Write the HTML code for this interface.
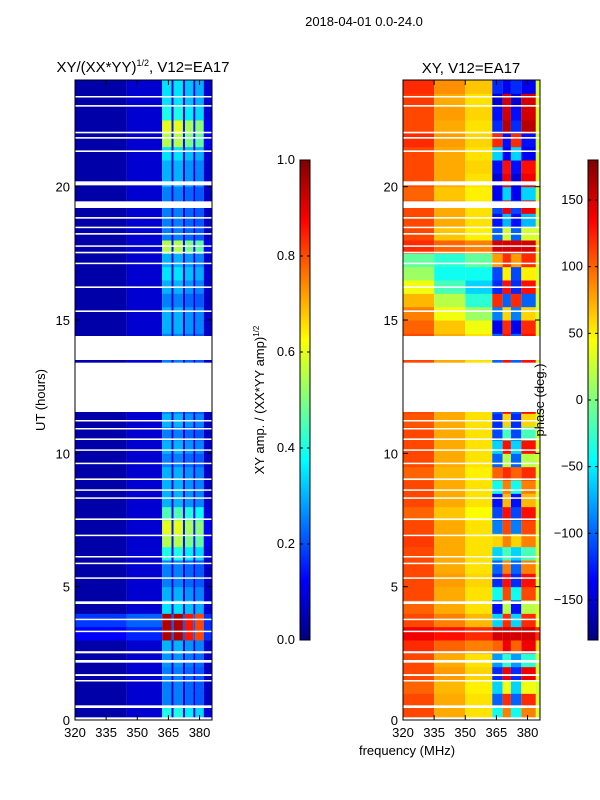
<!DOCTYPE html>
<html><head><meta charset="utf-8">
<style>
body{margin:0;background:#fff;width:600px;height:800px;overflow:hidden}
svg{display:block;font-family:"Liberation Sans",sans-serif}
</style></head>
<body>
<svg id="fig" width="600" height="800">
<defs>
<linearGradient id="jet" x1="0" y1="1" x2="0" y2="0">
<stop offset="0" stop-color="#00007f"/><stop offset="0.125" stop-color="#0000ff"/>
<stop offset="0.375" stop-color="#00ffff"/><stop offset="0.625" stop-color="#ffff00"/>
<stop offset="0.875" stop-color="#ff0000"/><stop offset="1" stop-color="#7f0000"/>
</linearGradient>
</defs>
<text x="364" y="26" font-size="13" text-anchor="middle">2018-04-01 0.0-24.0</text>
<text x="143" y="72" font-size="15" text-anchor="middle">XY/(XX*YY)<tspan font-size="9" dy="-6">1/2</tspan><tspan dy="6">, V12=EA17</tspan></text>
<text x="471" y="73" font-size="15" text-anchor="middle">XY, V12=EA17</text>
<g id="left"></g>
<g id="right"></g>
<g id="axes"></g>
<text transform="translate(45,400) rotate(-90)" font-size="13" text-anchor="middle">UT (hours)</text>
<text x="407" y="755" font-size="13" text-anchor="middle">frequency (MHz)</text>
<text transform="translate(264,400) rotate(-90)" font-size="13" text-anchor="middle">XY amp. / (XX*YY amp)<tspan font-size="8" dy="-5">1/2</tspan></text>
<text transform="translate(544,400) rotate(-90)" font-size="13" text-anchor="middle">phase (deg.)</text>
</svg>
<script>
// ---- data ----
const timeRows = [0,0.5,1,1.5,2,2.5,3,3.5,4,4.5,5,5.5,6,6.5,7,7.5,8,8.5,9,9.5,10,10.5,11,11.5,12,12.5,13,13.5,14,14.5,15,15.5,16,16.5,17,17.5,18,18.5,19,19.5,20,20.5,21,21.5,22,22.5,23,23.5];
const ampLowFreq = [0.04,0.04,0.04,0.04,0.04,0.04,0.12,0.18,0.04,0.04,0.04,0.04,0.04,0.04,0.04,0.04,0.04,0.04,0.04,0.04,0.04,0.04,0.04,0.04,0.04,0.04,0.04,0.04,0.04,0.04,0.04,0.04,0.04,0.04,0.04,0.04,0.04,0.04,0.04,0.04,0.04,0.04,0.04,0.04,0.04,0.04,0.04,0.04];
const ampHighFreq = [0.4,0.25,0.25,0.25,0.27,0.3,0.95,0.95,0.35,0.3,0.25,0.25,0.4,0.55,0.6,0.45,0.3,0.3,0.3,0.25,0.3,0.25,0.3,0.25,0.25,0.25,0.25,0.25,0.25,0.3,0.3,0.25,0.3,0.35,0.3,0.55,0.25,0.25,0.25,0.25,0.3,0.3,0.35,0.55,0.6,0.4,0.35,0.35];
const ampStripeFreqs = [[362,366.5,1],[366.5,367.5,0.2],[367.5,372,1],[372,373,0.2],[373,377,0.9],[377,378,0.2],[378,382,0.85],[382,386,0.15]];
const phaseLow = [110,110,100,110,110,120,140,110,100,110,110,110,110,115,110,100,110,110,100,110,110,110,105,110,110,110,110,110,110,100,90,70,40,10,-10,120,110,110,110,100,110,110,110,120,110,110,115,120];
const phaseMid = [75,75,70,80,75,100,130,90,75,75,80,75,75,75,75,65,75,75,70,75,75,75,75,75,75,75,75,75,75,65,40,20,-20,-40,-30,100,65,75,75,65,75,75,75,80,75,80,75,85];
const phaseMid2 = [55,55,50,60,55,90,120,70,55,55,60,55,55,55,55,45,55,55,50,55,55,55,55,55,55,55,55,55,55,40,10,-30,-60,-40,-10,90,50,55,55,50,55,60,55,60,55,60,55,65];
const phaseHighA = [-40,-100,-60,-120,-80,100,150,-60,-130,-40,-120,-100,-60,60,-90,-110,-130,-40,100,-100,-60,-110,-120,-100,-100,-100,-100,-100,-100,-140,-90,120,-120,-110,80,150,-100,-130,-110,-140,-150,-130,-60,120,-120,-130,-150,-120];
const phaseHighB = [90,120,40,140,-30,140,150,120,20,110,130,90,-20,90,110,130,70,90,120,20,130,-20,60,130,130,130,130,130,130,120,60,-100,130,50,120,150,30,-70,140,-60,140,130,-140,-130,160,150,150,-140];
const phaseEdge = [30,30,30,30,30,60,120,40,30,30,30,30,30,30,30,30,30,30,30,30,30,30,30,30,30,30,30,30,30,30,30,30,30,30,30,60,30,30,30,30,30,30,30,30,30,30,30,30];
const gapIntervals = [[0,0.1],[11.55,13.4],[13.5,14.4],[19.2,19.45],[20.05,20.2],[0.45,0.55],[1.45,1.5],[1.65,1.72],[2.15,2.25],[2.5,2.58],[3.3,3.35],[3.75,3.8],[4.35,4.45],[5.3,5.35],[5.85,5.9],[6.1,6.15],[6.9,6.95],[7.5,7.56],[8.3,8.35],[8.6,8.65],[9.0,9.06],[9.6,9.65],[10.1,10.15],[10.5,10.56],[10.9,10.95],[11.2,11.25],[11.55,11.7],[15.3,15.36],[16.2,16.26],[17.1,17.15],[17.5,17.56],[17.75,17.8],[18.2,18.26],[18.45,18.5],[18.8,18.86],[21.3,21.36],[21.8,21.86],[22.0,22.06],[23.0,23.06],[23.35,23.4]];
const yTicks = [0,5,10,15,20];
const xTicks = [320,335,350,365,380];
const ampTicks = [0.0,0.2,0.4,0.6,0.8,1.0];
const phaseTicks = [-150,-100,-50,0,50,100,150];

// ---- scales ----
const NS="http://www.w3.org/2000/svg";
const Y0=720,Y1=80;
const yS=t=>Y0-(t/24)*(Y0-Y1);
const xL=f=>75+(f-320)*(137/66);
const xR=f=>403+(f-320)*(137/66);
function jet(v){v=Math.max(0,Math.min(1,v));
 const st=[[0,0,0,127],[0.125,0,0,255],[0.375,0,255,255],[0.625,255,255,0],[0.875,255,0,0],[1,127,0,0]];
 for(let i=1;i<st.length;i++){if(v<=st[i][0]){const a=st[i-1],b=st[i],k=(v-a[0])/(b[0]-a[0]);
 return `rgb(${Math.round(a[1]+k*(b[1]-a[1]))},${Math.round(a[2]+k*(b[2]-a[2]))},${Math.round(a[3]+k*(b[3]-a[3]))})`;}}return "rgb(127,0,0)";}
const pc=p=>jet((p+180)/360);
function rect(g,x,y,w,h,fill,name){const r=document.createElementNS(NS,"rect");
 r.setAttribute("x",x);r.setAttribute("y",y);r.setAttribute("width",w);r.setAttribute("height",h);r.setAttribute("fill",fill);
 
 
 g.appendChild(r);return r;}
function txt(g,x,y,s,anchor,name){const t=document.createElementNS(NS,"text");
 t.setAttribute("x",x);t.setAttribute("y",y);t.setAttribute("font-size","13");t.setAttribute("text-anchor",anchor);t.textContent=s;
 
 
 g.appendChild(t);}
function line(g,x1,y1,x2,y2,name,w){const l=document.createElementNS(NS,"line");
 l.setAttribute("x1",x1);l.setAttribute("y1",y1);l.setAttribute("x2",x2);l.setAttribute("y2",y2);l.setAttribute("stroke","#000");l.setAttribute("stroke-width",w||1);
 
 
 g.appendChild(l);}

const L=document.getElementById("left"),R=document.getElementById("right"),A=document.getElementById("axes");
timeRows.forEach((t,i)=>{
 const y=yS(t+0.5),h=yS(t)-y+0.5;
 rect(L,xL(320),y,xL(345)-xL(320),h,jet(ampLowFreq[i]),"amp-cell");
 rect(L,xL(345),y,xL(362)-xL(345),h,jet(ampLowFreq[i]+0.04),"amp-cell");
 ampStripeFreqs.forEach(s=>rect(L,xL(s[0]),y,xL(s[1])-xL(s[0]),h,jet(ampHighFreq[i]*s[2]+(s[2]<0.5?0.03:0)),"amp-cell"));
 rect(R,xR(320),y,xR(335)-xR(320),h,pc(phaseLow[i]),"phase-cell");
 rect(R,xR(335),y,xR(350)-xR(335),h,pc(phaseMid[i]),"phase-cell");
 rect(R,xR(350),y,xR(363)-xR(350),h,pc(phaseMid2[i]),"phase-cell");
 [[363,368,phaseHighA],[368,372,phaseHighB],[372,377,phaseHighA],[377,384,phaseHighB]].forEach(c=>
  rect(R,xR(c[0]),y,xR(c[1])-xR(c[0]),h,pc(c[2][i]),"phase-cell"));
 rect(R,xR(384),y,xR(386)-xR(384),h,pc(phaseEdge[i]),"phase-cell");
});
gapIntervals.forEach(g=>{const y=yS(g[1]),h=Math.max(1.5,yS(g[0])-y);
 rect(L,75,y,137,h,"#fff","data-gap");rect(R,403,y,137,h,"#fff","data-gap");});

// frames & ticks
[[75,"left"],[403,"right"]].forEach(([x0,nm])=>{
 const f=document.createElementNS(NS,"rect");f.setAttribute("x",x0);f.setAttribute("y",80);f.setAttribute("width",137);f.setAttribute("height",640);
 f.setAttribute("fill","none");f.setAttribute("stroke","#000");
 
 
 A.appendChild(f);
 const xs=nm==="left"?xL:xR;
 xTicks.forEach(v=>{const x=xs(v);line(A,x,720,x,715,"x-tick");line(A,x,80,x,85,"x-tick");txt(A,x,737,String(v),"middle","x-tick-label");});
 yTicks.forEach(v=>{const y=yS(v);line(A,x0,y,x0+5,y,"y-tick");line(A,x0+137,y,x0+132,y,"y-tick");txt(A,x0-5,y+5,String(v),"end","y-tick-label");});
});
// colorbars
[[300,ampTicks,v=>640-v*480,v=>v.toFixed(1),"amp-colorbar"],[588,phaseTicks,v=>400-(v/180)*240,v=>v<0?"\u2212"+(-v):String(v),"phase-colorbar"]].forEach(([x,ticks,sc,fmt,nm])=>{
 const r=rect(A,x,160,10,480,"url(#jet)",nm);r.setAttribute("stroke","#000");r.setAttribute("stroke-width","1");
 ticks.forEach(v=>{const y=sc(v);line(A,x,y,x+3,y,nm+"-tick");line(A,x+10,y,x+7,y,nm+"-tick");txt(A,x-5,y+4,fmt(v),"end",nm+"-tick-label");});
});
</script>
</body></html>
